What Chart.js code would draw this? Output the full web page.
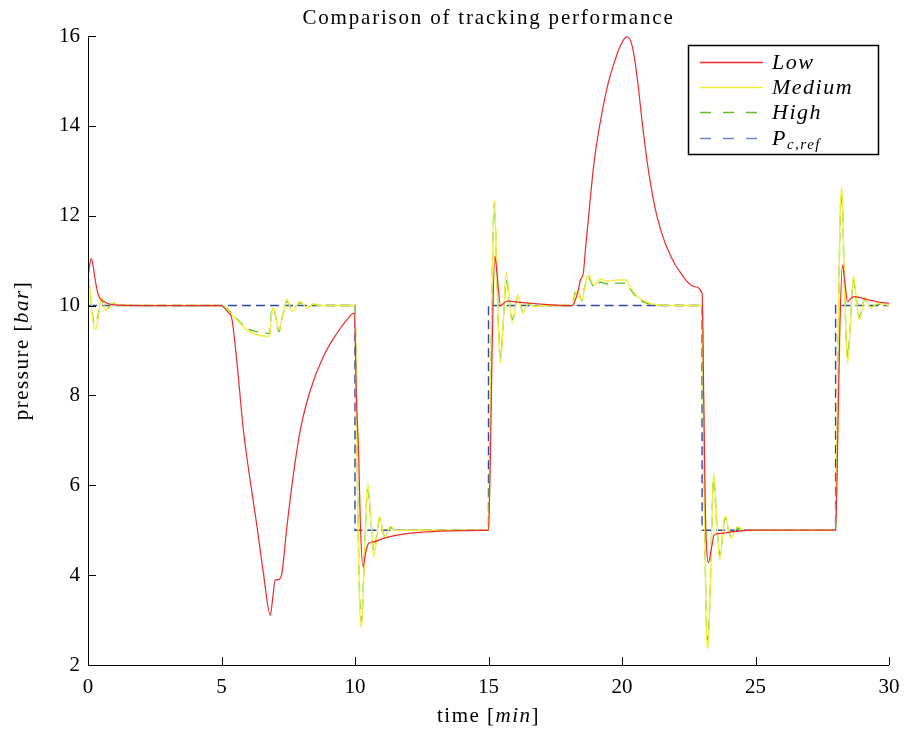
<!DOCTYPE html>
<html>
<head>
<meta charset="utf-8">
<script src="https://cdn.jsdelivr.net/npm/chart.js@4"></script>
<style>
  html, body { margin: 0; padding: 0; background: #fff; }
  #wrap { width: 904px; height: 731px; }
</style>
</head>
<body>
<div id="wrap"><canvas id="c" width="904" height="731"></canvas></div>
<script>
// --- data (time in min, pressure in bar) ---
const lowT = [0, 0.06, 0.12, 0.2, 0.29, 0.41, 0.6, 0.9, 2, 5.0, 5.1, 5.25, 5.39, 5.58, 5.82, 6.07, 6.33, 6.57, 6.83, 6.92, 7.01, 7.14, 7.26, 7.45, 7.7, 7.95, 8.33, 8.82, 9.33, 9.65, 9.98,
  10.05, 10.14, 10.2, 10.3, 10.4, 10.51, 10.7, 11.07, 11.58, 12.2, 13.2, 14.0, 15.0, 15.08, 15.15, 15.24, 15.32, 15.45, 15.55, 15.7, 16.2, 16.82, 17.8,
  18.14, 18.33, 18.45, 18.55, 18.64, 18.76, 18.95, 19.2, 19.45, 19.7, 19.95, 20.18, 20.39, 20.58, 20.76, 20.95, 21.2, 21.45, 21.83, 22.2, 22.7, 23.0,
  23.06, 23.12, 23.24, 23.35, 23.45, 23.7, 24.2, 25, 28.0, 28.08, 28.16, 28.26, 28.35, 28.45, 28.55, 28.7, 29.2, 29.6, 30];
const lowP = [10.6, 10.9, 11.05, 10.85, 10.5, 10.2, 10.09, 10.02, 10, 10, 9.95, 9.85, 9.7, 8.72, 7.23, 6.12, 5.08, 4.04, 3.11, 3.5, 3.89, 3.9, 4.04, 5.08, 6.27, 7.23, 8.12, 8.87, 9.39, 9.65, 9.83,
  8.0, 6.64, 5.15, 4.19, 4.5, 4.71, 4.74, 4.82, 4.89, 4.94, 4.98, 4.99, 5.0, 7.0, 9.5, 11.1, 10.7, 10.0, 10.04, 10.1, 10.07, 10.04, 10.0,
  10.0, 10.27, 10.58, 10.72, 11.31, 12.05, 13.17, 14.13, 14.87, 15.39, 15.8, 15.98, 15.76, 15.02, 14.06, 13.17, 12.28, 11.68, 11.09, 10.72, 10.42, 10.27,
  8.0, 5.5, 4.28, 4.6, 4.89, 4.93, 4.97, 5.0, 5.0, 7.0, 9.5, 10.9, 10.5, 10.08, 10.15, 10.2, 10.13, 10.08, 10.05];

const medT = [0, 0.1, 0.2, 0.29, 0.4, 0.5, 0.58, 0.66, 0.8, 0.95, 1.1, 1.4, 5.0, 5.14, 5.35, 5.58, 5.95, 6.33, 6.8, 6.84, 6.89, 6.95, 7.05, 7.14, 7.3, 7.45, 7.64, 7.95, 8.2, 8.45, 8.7,
  10.0, 10.08, 10.16, 10.24, 10.35, 10.47, 10.58, 10.7, 10.81, 10.92, 11.11, 11.33, 11.51, 11.8, 15.0, 15.08, 15.15, 15.22, 15.3, 15.38, 15.45, 15.55, 15.66, 15.89, 16.1, 16.28, 16.51, 16.7, 17,
  18.14, 18.25, 18.35, 18.49, 18.6, 18.72, 18.95, 19.2, 19.45, 19.83, 20.14, 20.33, 20.58, 20.95, 21.33, 22,
  23.0, 23.08, 23.15, 23.22, 23.32, 23.43, 23.55, 23.66, 23.86, 24.08, 24.33, 24.57, 24.9, 28.0, 28.08, 28.16, 28.23, 28.33, 28.45, 28.55, 28.66, 28.89, 29.1, 29.3, 29.58, 30];
const medP = [10.8, 10.2, 9.6, 9.47, 9.8, 10.18, 10.05, 9.9, 9.95, 10.07, 10.0, 10.0, 10.0, 9.95, 9.82, 9.68, 9.46, 9.35, 9.31, 9.5, 9.87, 9.95, 9.7, 9.46, 9.8, 10.14, 9.87, 10.09, 9.95, 10.04, 10.0,
  10.0, 6.5, 3.6, 2.82, 4.3, 6.04, 5.4, 4.41, 4.8, 5.31, 4.82, 5.09, 4.99, 5.0, 5.0, 8.0, 11.0, 12.35, 11.0, 9.3, 8.71, 9.6, 10.73, 9.61, 10.24, 9.84, 10.07, 9.98, 10.0,
  10.0, 10.25, 10.31, 10.11, 10.4, 10.68, 10.46, 10.59, 10.54, 10.57, 10.57, 10.39, 10.2, 10.07, 10.02, 10.0,
  10.0, 6.0, 3.0, 2.37, 4.0, 6.28, 5.2, 4.34, 5.33, 4.82, 5.08, 4.99, 5.0, 5.0, 8.5, 11.8, 12.65, 10.5, 8.71, 9.5, 10.66, 9.68, 10.18, 9.94, 10.05, 10.0];

const highT = medT;
const highP = [10.6, 10.15, 9.68, 9.6, 9.85, 10.15, 10.04, 9.92, 9.96, 10.05, 10.0, 10.0, 10.0, 9.96, 9.85, 9.7, 9.5, 9.42, 9.38, 9.6, 9.95, 9.93, 9.7, 9.42, 9.8, 10.1, 9.9, 10.06, 9.97, 10.02, 10.0,
  10.0, 6.6, 3.8, 2.98, 4.4, 5.9, 5.35, 4.55, 4.85, 5.25, 4.86, 5.06, 4.99, 5.0, 5.0, 8.0, 11.0, 12.3, 11.0, 9.4, 8.86, 9.6, 10.56, 9.7, 10.2, 9.88, 10.05, 9.99, 10.0,
  10.0, 10.3, 10.34, 10.1, 10.4, 10.64, 10.42, 10.52, 10.48, 10.5, 10.5, 10.35, 10.17, 10.05, 10.01, 10.0,
  10.0, 6.1, 3.2, 2.55, 4.1, 6.15, 5.15, 4.45, 5.25, 4.86, 5.05, 4.99, 5.0, 5.0, 8.4, 11.7, 12.5, 10.5, 8.85, 9.55, 10.55, 9.75, 10.15, 9.96, 10.03, 10.0];

const refT = [0, 10, 10, 15, 15, 23, 23, 28, 28, 30];
const refP = [10, 10, 5, 5, 10, 10, 5, 5, 10, 10];

const xTicks = [0, 5, 10, 15, 20, 25, 30];
const yTicks = [2, 4, 6, 8, 10, 12, 14, 16];

const SERIF = '"Liberation Serif", "DejaVu Serif", serif';
const RED = '#ee2a2a', YELLOW = '#f0f03a', GREEN = '#5cbf2a', BLUE = '#2f4aa4';

function pts(ts, vs) { return ts.map((t, i) => ({ x: t, y: vs[i] })); }

// MATLAB-like frame: left and bottom axes, inward ticks, text in LaTeX style
const framePlugin = {
  id: 'frame',
  afterDatasetsDraw(chart) {
    const { ctx, chartArea: a, scales: { x, y } } = chart;
    ctx.save();
    ctx.strokeStyle = '#000';
    ctx.lineWidth = 1;
    ctx.beginPath();
    ctx.moveTo(a.left + 0.5, a.top);
    ctx.lineTo(a.left + 0.5, a.bottom + 0.5);
    ctx.lineTo(a.right, a.bottom + 0.5);
    xTicks.forEach(v => {
      const px = Math.round(x.getPixelForValue(v)) + 0.5;
      ctx.moveTo(px, a.bottom);
      ctx.lineTo(px, a.bottom - 8);
    });
    yTicks.forEach(v => {
      const py = Math.round(y.getPixelForValue(v)) + 0.5;
      ctx.moveTo(a.left, py);
      ctx.lineTo(a.left + 8, py);
    });
    ctx.stroke();
    ctx.restore();
  },
  afterDraw(chart) {
    const { ctx, chartArea: a } = chart;
    ctx.save();
    ctx.fillStyle = '#000';
    ctx.textBaseline = 'alphabetic';

    const norm = '21px ' + SERIF, ital = 'italic 21px ' + SERIF;

    // mixed-style text helper
    function drawParts(parts, cx, cy) {
      let w = 0;
      parts.forEach(p => { ctx.font = p[1]; w += ctx.measureText(p[0]).width; });
      let xx = cx - w / 2;
      ctx.textAlign = 'left';
      parts.forEach(p => { ctx.font = p[1]; ctx.fillText(p[0], xx, cy); xx += ctx.measureText(p[0]).width; });
    }

    ctx.letterSpacing = '1.8px';
    drawParts([['Comparison of tracking performance', norm]], (a.left + a.right) / 2, 24);
    ctx.letterSpacing = '1.5px';
    drawParts([['time [', norm], ['min', ital], [']', norm]], (a.left + a.right) / 2, 722);

    ctx.save();
    ctx.translate(28, (a.top + a.bottom) / 2);
    ctx.rotate(-Math.PI / 2);
    drawParts([['pressure [', norm], ['bar', ital], [']', norm]], 0, 0);
    ctx.restore();

    // legend box
    const bx = 688, by = 45, bw = 190, bh = 109;
    ctx.fillStyle = '#fff';
    ctx.fillRect(bx, by, bw, bh);
    ctx.strokeStyle = '#000';
    ctx.lineWidth = 1.5;
    ctx.strokeRect(bx + 0.5, by + 0.5, bw, bh);
    const rows = [
      { c: RED, d: [], y: 62, t: 'Low' },
      { c: YELLOW, d: [], y: 87, t: 'Medium' },
      { c: GREEN, d: [11, 12], y: 112, t: 'High' },
      { c: '#6f86c8', d: [11, 12], y: 138, t: 'P' }
    ];
    ctx.letterSpacing = '1.5px';
    rows.forEach(r => {
      ctx.strokeStyle = r.c;
      ctx.lineWidth = 1.5;
      ctx.setLineDash(r.d);
      ctx.beginPath();
      ctx.moveTo(700, r.y + 0.5);
      ctx.lineTo(763, r.y + 0.5);
      ctx.stroke();
      ctx.setLineDash([]);
      ctx.fillStyle = '#000';
      ctx.textAlign = 'left';
      ctx.font = 'italic 22px ' + SERIF;
      ctx.fillText(r.t, 772, r.y + 7);
      if (r.t === 'P') {
        const w = ctx.measureText('P').width;
        ctx.font = 'italic 15px ' + SERIF;
        ctx.fillText('c,ref', 772 + w, r.y + 11);
      }
    });
    ctx.restore();
  }
};

new Chart(document.getElementById('c'), {
  type: 'line',
  data: {
    datasets: [
      { label: 'Low', data: pts(lowT, lowP), borderColor: RED, borderWidth: 1.2, cubicInterpolationMode: 'monotone' },
      { label: 'Medium', data: pts(medT, medP), borderColor: YELLOW, borderWidth: 1.4, cubicInterpolationMode: 'monotone' },
      { label: 'High', data: pts(highT, highP), borderColor: GREEN, borderWidth: 1.4, borderDash: [10, 7], cubicInterpolationMode: 'monotone' },
      { label: 'Pc,ref', data: pts(refT, refP), borderColor: BLUE, borderWidth: 1.4, borderDash: [9, 5], tension: 0 }
    ]
  },
  options: {
    responsive: false,
    animation: false,
    elements: { point: { radius: 0 } },
    layout: { padding: { top: 36, right: 15, left: 0, bottom: 0 } },
    plugins: { legend: { display: false }, tooltip: { enabled: false }, title: { display: false } },
    scales: {
      x: {
        type: 'linear', min: 0, max: 30,
        afterFit: s => { s.height = 66; s.paddingLeft = 0; s.paddingRight = 0; },
        afterBuildTicks: s => { s.ticks = xTicks.map(v => ({ value: v })); },
        grid: { display: false, drawTicks: false },
        border: { display: false },
        ticks: { color: '#000', padding: 10, font: { family: SERIF, size: 21 } }
      },
      y: {
        type: 'linear', min: 2, max: 16,
        afterFit: s => { s.width = 88; s.paddingTop = 0; s.paddingBottom = 0; },
        afterBuildTicks: s => { s.ticks = yTicks.map(v => ({ value: v })); },
        grid: { display: false, drawTicks: false },
        border: { display: false },
        ticks: { color: '#000', padding: 8, font: { family: SERIF, size: 21 } }
      }
    }
  },
  plugins: [framePlugin]
});
</script>
</body>
</html>
